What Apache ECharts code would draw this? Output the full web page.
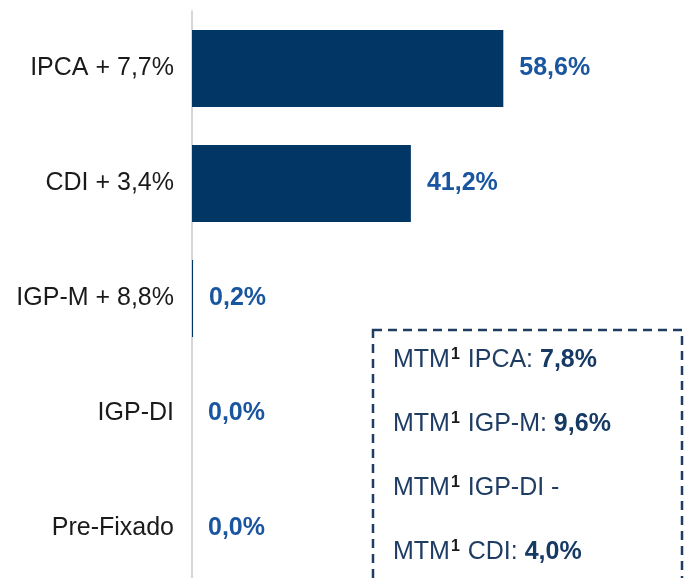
<!DOCTYPE html>
<html lang="pt">
<head>
  <meta charset="UTF-8">
  <title>Indexadores</title>
  <script src="https://cdn.jsdelivr.net/npm/echarts@6/dist/echarts.min.js"></script>
  <style>
    html, body { margin: 0; padding: 0; background: #fff; }
    #chart { width: 691px; height: 578px; }
  </style>
</head>
<body>
<div id="chart"></div>
<script>
  // dados
  const categories = ['IPCA + 7,7%', 'CDI + 3,4%', 'IGP-M + 8,8%', 'IGP-DI', 'Pre-Fixado'];
  const shares = [58.6, 41.2, 0.2, 0.0, 0.0];
  const mtmIndex = ['IPCA', 'IGP-M', 'IGP-DI', 'CDI'];
  const mtmValues = ['7,8%', '9,6%', null, '4,0%'];

  const font = "'Liberation Sans', Arial, sans-serif";
  const navy = '#1f3d63';

  // caixa MTM
  const boxText = mtmIndex.map((idx, i) => {
    const v = mtmValues[i];
    const txt = '{a|MTM}{s|1}{a| ' + idx + (v ? ': ' : ' -') + '}' + (v ? '{b|' + v + '}' : '');
    return {
      type: 'text',
      x: 393,
      y: 360 + i * 64,
      style: {
        text: txt,
        verticalAlign: 'middle',
        rich: {
          a: { fontFamily: font, fontSize: 25, fill: navy },
          s: { fontFamily: font, fontSize: 16, fontWeight: 'bold', fill: '#1a1a1a', padding: [0, 1, 10, 1] },
          b: { fontFamily: font, fontSize: 25, fontWeight: 'bold', fill: '#163a64' }
        }
      }
    };
  });

  const chart = echarts.init(document.getElementById('chart'));
  chart.setOption({
    animation: false,
    grid: { left: 192, top: 11, width: 425, height: 575, outerBoundsMode: 'none' },
    xAxis: {
      type: 'value',
      min: 0,
      max: 80,
      show: false
    },
    yAxis: {
      type: 'category',
      inverse: true,
      data: categories,
      axisLine: { show: true, lineStyle: { color: '#c8c8c8', width: 1.5 } },
      axisTick: { show: false },
      axisLabel: { margin: 18, fontSize: 25, fontFamily: font, color: '#1a1a1a' }
    },
    series: [{
      type: 'bar',
      data: shares,
      barWidth: 77,
      itemStyle: { color: '#023665' },
      label: {
        show: true,
        position: 'right',
        distance: 16,
        fontFamily: font,
        fontSize: 25,
        fontWeight: 'bold',
        color: '#1a56a0',
        formatter: p => p.value.toFixed(1).replace('.', ',') + '%'
      }
    }],
    graphic: [
      {
        type: 'rect',
        shape: { x: 373, y: 330, width: 309, height: 280 },
        style: { fill: 'none', stroke: navy, lineWidth: 2.5, lineDash: [9, 6] }
      }
    ].concat(boxText)
  });
</script>
</body>
</html>
